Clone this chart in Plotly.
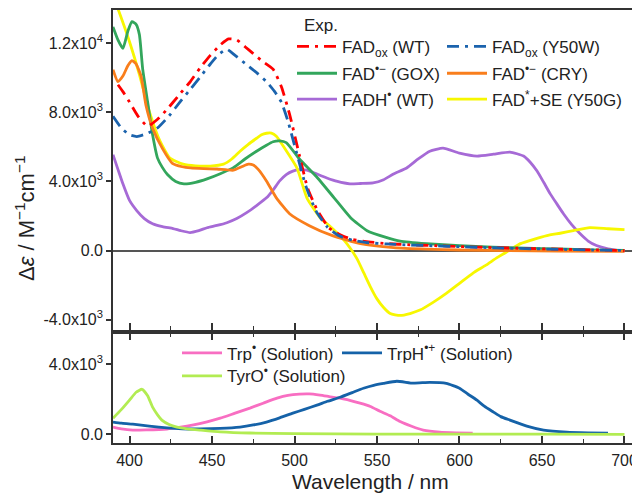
import plotly.graph_objects as go

# ---------------- data ----------------
wl_fadox_wt = [393, 396, 400, 405, 411, 417, 423, 430, 437, 443, 449, 455, 460, 465, 470, 475, 480, 487, 492, 497,
               503, 508, 514, 521, 528, 535, 545, 556, 570, 585, 600, 620, 640, 660, 680, 700]
de_fadox_wt = [9600, 9200, 8600, 7800, 7200, 7600, 8200, 9000, 9800, 10600, 11300, 11900, 12250, 12200, 11800, 11400,
               11000, 10500, 9500, 7900, 5500, 3600, 2300, 1300, 900, 650, 500, 400, 330, 280, 230, 170, 120, 80, 40, 0]

wl_fadox_y50w = [390, 395, 400, 404.5, 410, 417, 424, 431, 437, 443, 449, 454, 459, 464, 471, 477, 483, 488, 492, 496,
                 501, 507, 513, 520, 527, 535, 545, 556, 570, 585, 600, 620, 640, 660, 680, 700]
de_fadox_y50w = [7770, 7100, 6700, 6600, 6750, 7100, 7800, 8650, 9350, 10070, 10800, 11350, 11650, 11300, 10760, 10300,
                 9780, 9200, 8600, 7500, 5750, 3700, 2300, 1350, 850, 600, 450, 380, 320, 270, 220, 160, 110, 70, 30, 0]

wl_gox = [390, 393, 396, 399, 401.5, 404, 406, 408, 411, 414, 417, 420, 423, 428, 433, 440, 447, 455, 463, 470, 477,
          483, 487, 491, 495, 503, 514, 524, 534, 544, 556, 564, 580, 600, 620, 640, 660, 680, 700]
de_gox = [12950, 12200, 11700, 12700, 13250, 13100, 12500, 10500, 8600, 6700, 5350, 4800, 4400, 4000, 3860, 3950, 4150,
          4450, 4800, 5300, 5750, 6100, 6300, 6350, 6250, 5300, 4200, 3050, 1900, 1150, 750, 550, 400, 280, 200, 140,
          90, 40, 0]

wl_cry = [390, 393, 396, 399, 401.5, 404, 407, 410, 414, 420, 426, 432, 437, 445, 453, 463, 468, 472, 475, 478, 483,
          489, 497, 509, 523, 540, 560, 580, 600, 630, 660, 700]
de_cry = [10470, 9780, 10100, 10700, 11000, 10800, 10100, 8400, 7080, 5900, 5050, 4850, 4780, 4740, 4720, 4650, 4850,
          5000, 4950, 4700, 4030, 3050, 2130, 1440, 860, 400, 170, 80, 30, 0, -30, -50]

wl_fadh = [390, 393, 396, 400, 404.5, 409, 414, 420, 426.4, 431, 436.7, 442, 447, 453, 459, 465, 471, 477, 483, 487,
           491, 495, 499, 503, 507.5, 513, 519.6, 526, 533.6, 540, 547.6, 554, 560, 568, 575, 582, 590, 600, 610.6,
           620.6, 630.6, 638.8, 643, 647, 651, 655, 659, 663, 668, 673, 678, 683, 690, 697, 700]
de_fadh = [5550, 4700, 3860, 2900, 2300, 1850, 1550, 1380, 1270, 1150, 1040, 1150, 1320, 1450, 1610, 1850, 2190, 2600,
           3050, 3500, 4030, 4400, 4600, 4680, 4660, 4450, 4200, 4000, 3860, 3880, 3910, 4100, 4430, 4780, 5300, 5750,
           5930, 5640, 5470, 5580, 5700, 5470, 5100, 4600, 3950, 3280, 2700, 2130, 1500, 980, 550, 290, 100, 0, -30]

wl_y50g = [391, 393, 400, 406, 412, 418.5, 424.5, 432.5, 440, 449, 457, 462, 467, 472, 477, 480, 483, 486, 489, 494,
           501.5, 507.5, 515.5, 521, 526, 530, 534, 538, 542, 546, 550, 554, 558, 564, 570, 576, 584, 592, 600, 608,
           616, 623, 630, 637, 645, 653, 661, 669, 679, 690, 700]
de_y50g = [14500, 14000, 12090, 10190, 8060, 6330, 5350, 5000, 4900, 4890, 5000, 5300, 5750, 6150, 6500, 6700, 6790,
           6800, 6620, 5930, 4780, 3050, 1900, 1450, 1000, 600, 100, -500, -1300, -2100, -2800, -3300, -3650, -3760,
           -3650, -3450, -3000, -2480, -1900, -1320, -850, -400, 0, 400, 650, 860, 1000, 1150, 1320, 1260, 1210]

wl_tyro = [390, 395, 400, 404, 407.6, 411, 414, 417, 419.6, 424, 428.8, 435, 442.7, 455, 473, 500, 550, 600, 650, 700]
de_tyro = [910, 1400, 1950, 2400, 2570, 2200, 1540, 1100, 800, 550, 400, 300, 230, 130, 60, 20, 0, 0, -10, -20]

wl_trp = [390, 395, 402, 410, 422.7, 430, 438.8, 447, 455, 464, 473, 481, 489.4, 496, 503, 509, 515.5, 521, 527.6, 534,
          539.7, 546, 551.8, 558, 564, 571, 578, 588, 598, 608]
de_trp = [400, 300, 230, 240, 290, 380, 520, 700, 910, 1200, 1490, 1770, 2060, 2220, 2290, 2300, 2230, 2150, 2060, 1920,
          1770, 1580, 1310, 1050, 720, 450, 230, 110, 70, 50]

wl_trph = [390, 395, 402, 412, 422.7, 432, 442.7, 455, 467, 475, 483, 491, 499, 506, 513.6, 520, 527.6, 535, 541.8,
           548, 554, 562, 572, 582, 592, 600, 605, 610.6, 615, 620.6, 625, 630.6, 640.8, 651, 665, 678, 690]
de_trph = [690, 630, 570, 450, 350, 300, 290, 320, 400, 520, 690, 930, 1200, 1420, 1660, 1880, 2110, 2380, 2630, 2800,
           2910, 3030, 2920, 2970, 2910, 2630, 2300, 1940, 1600, 1260, 1000, 800, 460, 230, 110, 70, 50]

x_tickvals = [400, 450, 500, 550, 600, 650, 700]
y_top_tickvals = [-4000, 0, 4000, 8000, 12000]
y_top_ticktext = ["-4.0x10<sup>3</sup>", "0.0", "4.0x10<sup>3</sup>", "8.0x10<sup>3</sup>", "1.2x10<sup>4</sup>"]
y_bot_tickvals = [0, 4000]
y_bot_ticktext = ["0.0", "4.0x10<sup>3</sup>"]

FONT = "Liberation Sans, Arial, sans-serif"
DD = "12px,6px,3px,6px"
LW = 2.8

# The page body has an 8px default margin; the figure is sized so it fits the 640x494 window.
OFF = 8
PL, PR, PT, PB = 113, 640, 8, 443          # plot area in window pixels
W, H = 640 - OFF, 494 - OFF


def px_x(x):
    return (x - PL) / (PR - PL)


def px_y(y):
    return (PB - y) / (PB - PT)


fig = go.Figure()


def add(x, y, name, color, leg, xa, ya, dash=None):
    fig.add_trace(go.Scatter(x=x, y=y, mode="lines", name=name, xaxis=xa, yaxis=ya, legend=leg, showlegend=True,
                             line=dict(color=color, width=LW, dash=dash, shape="spline", smoothing=0.5)))


add(wl_fadh, de_fadh, "FADH<sup>•</sup> (WT)", "#a66ad6", "legend5", "x", "y")
add(wl_y50g, de_y50g, "FAD<sup>*</sup>+SE (Y50G)", "#f7f700", "legend6", "x", "y")
add(wl_gox, de_gox, "FAD<sup>•−</sup> (GOX)", "#33a65c", "legend3", "x", "y")
add(wl_cry, de_cry, "FAD<sup>•−</sup> (CRY)", "#f97e1c", "legend4", "x", "y")
add(wl_fadox_wt, de_fadox_wt, "FAD<sub>ox</sub> (WT)", "#ff0000", "legend", "x", "y", DD)
add(wl_fadox_y50w, de_fadox_y50w, "FAD<sub>ox</sub> (Y50W)", "#1b63ad", "legend2", "x", "y", DD)

add(wl_trp, de_trp, "Trp<sup>•</sup> (Solution)", "#f86ec2", "legend7", "x2", "y2")
add(wl_trph, de_trph, "TrpH<sup>•+</sup> (Solution)", "#1562a8", "legend8", "x2", "y2")
add(wl_tyro, de_tyro, "TyrO<sup>•</sup> (Solution)", "#b2ec52", "legend9", "x2", "y2")

AX = "#333333"
xcommon = dict(range=[390, 709.4], tickvals=x_tickvals, ticks="inside", ticklen=7, tickwidth=1.5,
               tickcolor=AX, showline=True, linecolor=AX, linewidth=1.6, showgrid=False, zeroline=False,
               minor=dict(dtick=25, tick0=400, ticks="inside", ticklen=4, tickwidth=1.2, tickcolor=AX))
fig.update_layout(
    showlegend=True,
    xaxis=dict(domain=[0, 1], anchor="y", showticklabels=False, mirror=True, **xcommon),
    xaxis2=dict(domain=[0, 1], anchor="y2", mirror="ticks",
                tickfont=dict(family=FONT, size=16, color="#222"), ticklabelstandoff=2,
                **xcommon),
    yaxis=dict(domain=[px_y(329), 1], anchor="x", range=[-4575, 13927], tickvals=y_top_tickvals,
               ticktext=y_top_ticktext, ticks="outside", ticklen=5, tickwidth=1.5, tickcolor=AX,
               showline=True, linecolor=AX, linewidth=1.6, showgrid=False,
               zeroline=True, zerolinecolor="#555555", zerolinewidth=2,
               tickfont=dict(family=FONT, size=16, color="#222")),
    yaxis2=dict(domain=[0, px_y(333)], anchor="x2", range=[-514, 5771], tickvals=y_bot_tickvals,
                ticktext=y_bot_ticktext, ticks="outside", ticklen=5, tickwidth=1.5, tickcolor=AX,
                showline=True, linecolor=AX, linewidth=1.6, showgrid=False, zeroline=False,
                tickfont=dict(family=FONT, size=16, color="#222")),
    width=W, height=H,
    margin=dict(l=PL - OFF, r=0, t=PT - OFF, b=H - (PB - OFF)),
    plot_bgcolor="white", paper_bgcolor="white",
    font=dict(family=FONT, color="#222"),
)

legcommon = dict(orientation="h", xanchor="left", yanchor="middle", bgcolor="rgba(0,0,0,0)",
                 font=dict(family=FONT, size=17, color="#222"), itemwidth=40,
                 tracegroupgap=0, itemclick=False, visible=True)
# (sample start x, row centre y) in window pixels
leg_pos = {
    "legend": (298, 45), "legend2": (448, 45),
    "legend3": (298, 72), "legend4": (448, 72),
    "legend5": (298, 98), "legend6": (448, 98),
    "legend7": (183, 353), "legend8": (343, 353),
    "legend9": (183, 376),
}
fig.update_layout({k: dict(x=px_x(sx - 6), y=px_y(sy), **legcommon) for k, (sx, sy) in leg_pos.items()})

fig.add_annotation(text="Exp.", xref="paper", yref="paper", x=px_x(302), y=px_y(24),
                   xanchor="left", yanchor="middle", showarrow=False, font=dict(family=FONT, size=17, color="#222"))
fig.add_annotation(text="Δ<i>ε</i> / M<sup>−1</sup>cm<sup>−1</sup>", xref="paper", yref="paper",
                   x=px_x(25), y=px_y(217), textangle=-90, xanchor="center", yanchor="middle",
                   showarrow=False, font=dict(family=FONT, size=22, color="#222"))
fig.add_annotation(text="Wavelength / nm", xref="paper", yref="paper",
                   x=px_x(370), y=px_y(482), xanchor="center", yanchor="middle",
                   showarrow=False, font=dict(family=FONT, size=21, color="#222"))

fig.write_html("out.html")
